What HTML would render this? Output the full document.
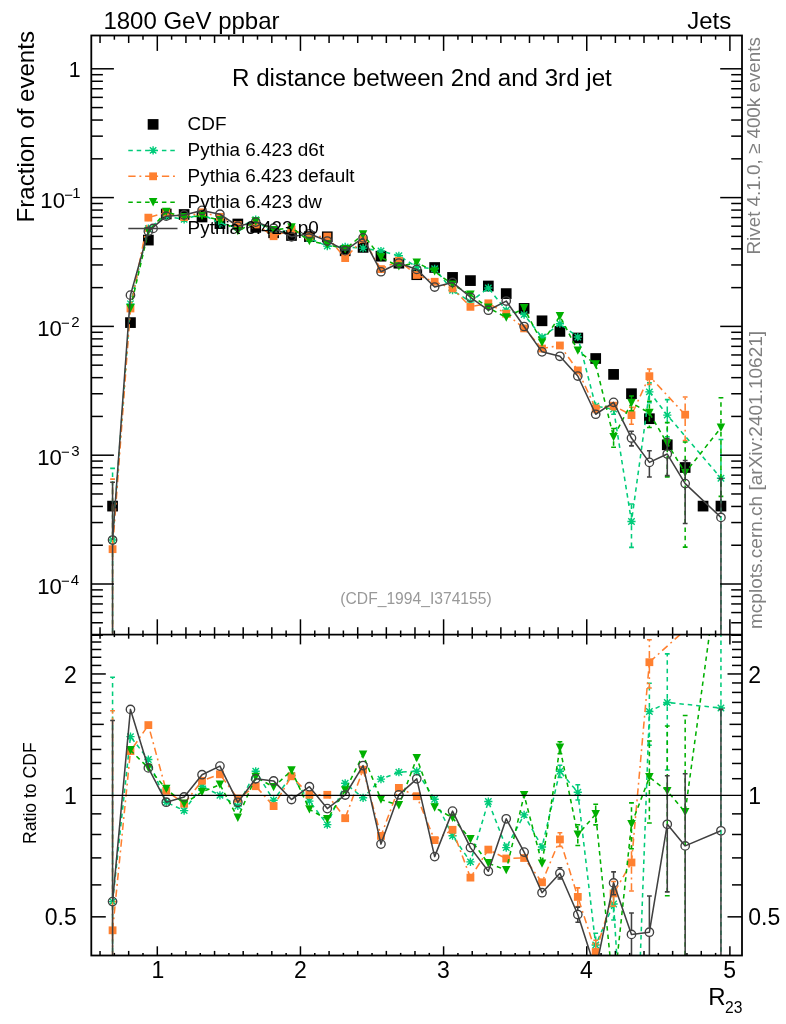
<!DOCTYPE html>
<html lang="en"><head><meta charset="utf-8"><title>R distance between 2nd and 3rd jet</title>
<style>html,body{margin:0;padding:0;background:#fff}body{width:786px;height:1024px;overflow:hidden}</style></head>
<body>
<svg width="786" height="1024" viewBox="0 0 786 1024" style="display:block">
<style>text{font-family:"Liberation Sans",sans-serif}</style>
<rect width="786" height="1024" fill="#fff"/>
<defs><clipPath id="cm"><rect x="91.3" y="35.5" width="650.7" height="599.2"/></clipPath><clipPath id="cr"><rect x="91.3" y="634.7" width="650.7" height="320.79999999999995"/></clipPath></defs>
<g clip-path="url(#cm)">
<rect x="107.22" y="500.75" width="10.7" height="10.7" fill="#000"/>
<rect x="125.11" y="317.25" width="10.7" height="10.7" fill="#000"/>
<rect x="143.00" y="234.75" width="10.7" height="10.7" fill="#000"/>
<rect x="160.90" y="208.65" width="10.7" height="10.7" fill="#000"/>
<rect x="178.79" y="209.15" width="10.7" height="10.7" fill="#000"/>
<rect x="196.68" y="211.65" width="10.7" height="10.7" fill="#000"/>
<rect x="214.58" y="218.25" width="10.7" height="10.7" fill="#000"/>
<rect x="232.47" y="218.65" width="10.7" height="10.7" fill="#000"/>
<rect x="250.37" y="222.05" width="10.7" height="10.7" fill="#000"/>
<rect x="268.26" y="227.45" width="10.7" height="10.7" fill="#000"/>
<rect x="286.15" y="230.15" width="10.7" height="10.7" fill="#000"/>
<rect x="304.05" y="231.25" width="10.7" height="10.7" fill="#000"/>
<rect x="321.94" y="231.45" width="10.7" height="10.7" fill="#000"/>
<rect x="339.83" y="245.45" width="10.7" height="10.7" fill="#000"/>
<rect x="357.73" y="242.05" width="10.7" height="10.7" fill="#000"/>
<rect x="375.62" y="250.85" width="10.7" height="10.7" fill="#000"/>
<rect x="393.52" y="257.85" width="10.7" height="10.7" fill="#000"/>
<rect x="411.41" y="269.35" width="10.7" height="10.7" fill="#000"/>
<rect x="429.30" y="262.15" width="10.7" height="10.7" fill="#000"/>
<rect x="447.20" y="272.05" width="10.7" height="10.7" fill="#000"/>
<rect x="465.09" y="275.25" width="10.7" height="10.7" fill="#000"/>
<rect x="482.98" y="280.65" width="10.7" height="10.7" fill="#000"/>
<rect x="500.88" y="288.25" width="10.7" height="10.7" fill="#000"/>
<rect x="518.77" y="303.05" width="10.7" height="10.7" fill="#000"/>
<rect x="536.67" y="315.45" width="10.7" height="10.7" fill="#000"/>
<rect x="554.56" y="326.05" width="10.7" height="10.7" fill="#000"/>
<rect x="572.45" y="332.65" width="10.7" height="10.7" fill="#000"/>
<rect x="590.35" y="353.15" width="10.7" height="10.7" fill="#000"/>
<rect x="608.24" y="369.05" width="10.7" height="10.7" fill="#000"/>
<rect x="626.13" y="388.35" width="10.7" height="10.7" fill="#000"/>
<rect x="644.03" y="413.35" width="10.7" height="10.7" fill="#000"/>
<rect x="661.92" y="439.45" width="10.7" height="10.7" fill="#000"/>
<rect x="679.82" y="462.15" width="10.7" height="10.7" fill="#000"/>
<rect x="697.71" y="500.75" width="10.7" height="10.7" fill="#000"/>
<rect x="715.60" y="500.75" width="10.7" height="10.7" fill="#000"/>
<polyline points="112.57,540.01 130.46,303.83 148.35,228.64 166.25,216.17 184.14,219.35 202.03,214.06 219.93,223.57 237.82,227.38 255.72,219.71 273.61,234.36 291.50,229.15 309.40,238.42 327.29,246.12 345.18,246.94 363.08,248.17 380.97,251.00 398.87,255.79 416.76,267.01 434.65,268.75 452.55,290.27 470.44,301.83 488.33,287.95 506.23,310.27 524.12,314.63 542.02,337.28 559.91,323.71 577.80,336.98 595.70,406.27 613.59,409.07 631.48,521.54 649.38,391.91 667.27,415.14 720.95,478.19" fill="none" stroke="#00cc7a" stroke-width="1.55" stroke-dasharray="4.5 3.9" stroke-linejoin="round"/>
<path d="M112.57 535.91V468.36M112.57 544.11V684.70" fill="none" stroke="#00cc7a" stroke-width="1.55" stroke-dasharray="4.5 3.9"/>
<path d="M110.17 468.36H114.97M110.17 684.70H114.97" fill="none" stroke="#00cc7a" stroke-width="1.55"/>
<path d="M613.59 404.97V404.41M613.59 413.17V414.17" fill="none" stroke="#00cc7a" stroke-width="1.55" stroke-dasharray="4.5 3.9"/>
<path d="M611.19 404.41H615.99M611.19 414.17H615.99" fill="none" stroke="#00cc7a" stroke-width="1.55"/>
<path d="M631.48 517.44V503.93M631.48 525.64V547.39" fill="none" stroke="#00cc7a" stroke-width="1.55" stroke-dasharray="4.5 3.9"/>
<path d="M629.08 503.93H633.88M629.08 547.39H633.88" fill="none" stroke="#00cc7a" stroke-width="1.55"/>
<path d="M649.38 387.81V382.89M649.38 396.01V402.67" fill="none" stroke="#00cc7a" stroke-width="1.55" stroke-dasharray="4.5 3.9"/>
<path d="M646.98 382.89H651.78M646.98 402.67H651.78" fill="none" stroke="#00cc7a" stroke-width="1.55"/>
<path d="M667.27 411.04V399.61M667.27 419.24V436.71" fill="none" stroke="#00cc7a" stroke-width="1.55" stroke-dasharray="4.5 3.9"/>
<path d="M664.87 399.61H669.67M664.87 436.71H669.67" fill="none" stroke="#00cc7a" stroke-width="1.55"/>
<path d="M720.95 474.09V439.42M720.95 482.29V684.70" fill="none" stroke="#00cc7a" stroke-width="1.55" stroke-dasharray="4.5 3.9"/>
<path d="M718.55 439.42H723.35M718.55 684.70H723.35" fill="none" stroke="#00cc7a" stroke-width="1.55"/>
<path d="M108.47 540.01H116.67M112.57 535.91V544.11M109.37 536.81L115.77 543.21M109.37 543.21L115.77 536.81" stroke="#00cc7a" stroke-width="1.4" fill="none"/>
<path d="M126.36 303.83H134.56M130.46 299.73V307.93M127.26 300.63L133.66 307.03M127.26 307.03L133.66 300.63" stroke="#00cc7a" stroke-width="1.4" fill="none"/>
<path d="M144.25 228.64H152.45M148.35 224.54V232.74M145.15 225.44L151.55 231.84M145.15 231.84L151.55 225.44" stroke="#00cc7a" stroke-width="1.4" fill="none"/>
<path d="M162.15 216.17H170.35M166.25 212.07V220.27M163.05 212.97L169.45 219.37M163.05 219.37L169.45 212.97" stroke="#00cc7a" stroke-width="1.4" fill="none"/>
<path d="M180.04 219.35H188.24M184.14 215.25V223.45M180.94 216.15L187.34 222.55M180.94 222.55L187.34 216.15" stroke="#00cc7a" stroke-width="1.4" fill="none"/>
<path d="M197.93 214.06H206.13M202.03 209.96V218.16M198.83 210.86L205.23 217.26M198.83 217.26L205.23 210.86" stroke="#00cc7a" stroke-width="1.4" fill="none"/>
<path d="M215.83 223.57H224.03M219.93 219.47V227.67M216.73 220.37L223.13 226.77M216.73 226.77L223.13 220.37" stroke="#00cc7a" stroke-width="1.4" fill="none"/>
<path d="M233.72 227.38H241.92M237.82 223.28V231.48M234.62 224.18L241.02 230.58M234.62 230.58L241.02 224.18" stroke="#00cc7a" stroke-width="1.4" fill="none"/>
<path d="M251.62 219.71H259.82M255.72 215.61V223.81M252.52 216.51L258.92 222.91M252.52 222.91L258.92 216.51" stroke="#00cc7a" stroke-width="1.4" fill="none"/>
<path d="M269.51 234.36H277.71M273.61 230.26V238.46M270.41 231.16L276.81 237.56M270.41 237.56L276.81 231.16" stroke="#00cc7a" stroke-width="1.4" fill="none"/>
<path d="M287.40 229.15H295.60M291.50 225.05V233.25M288.30 225.95L294.70 232.35M288.30 232.35L294.70 225.95" stroke="#00cc7a" stroke-width="1.4" fill="none"/>
<path d="M305.30 238.42H313.50M309.40 234.32V242.52M306.20 235.22L312.60 241.62M306.20 241.62L312.60 235.22" stroke="#00cc7a" stroke-width="1.4" fill="none"/>
<path d="M323.19 246.12H331.39M327.29 242.02V250.22M324.09 242.92L330.49 249.32M324.09 249.32L330.49 242.92" stroke="#00cc7a" stroke-width="1.4" fill="none"/>
<path d="M341.08 246.94H349.28M345.18 242.84V251.04M341.98 243.74L348.38 250.14M341.98 250.14L348.38 243.74" stroke="#00cc7a" stroke-width="1.4" fill="none"/>
<path d="M358.98 248.17H367.18M363.08 244.07V252.27M359.88 244.97L366.28 251.37M359.88 251.37L366.28 244.97" stroke="#00cc7a" stroke-width="1.4" fill="none"/>
<path d="M376.87 251.00H385.07M380.97 246.90V255.10M377.77 247.80L384.17 254.20M377.77 254.20L384.17 247.80" stroke="#00cc7a" stroke-width="1.4" fill="none"/>
<path d="M394.77 255.79H402.97M398.87 251.69V259.89M395.67 252.59L402.07 258.99M395.67 258.99L402.07 252.59" stroke="#00cc7a" stroke-width="1.4" fill="none"/>
<path d="M412.66 267.01H420.86M416.76 262.91V271.11M413.56 263.81L419.96 270.21M413.56 270.21L419.96 263.81" stroke="#00cc7a" stroke-width="1.4" fill="none"/>
<path d="M430.55 268.75H438.75M434.65 264.65V272.85M431.45 265.55L437.85 271.95M431.45 271.95L437.85 265.55" stroke="#00cc7a" stroke-width="1.4" fill="none"/>
<path d="M448.45 290.27H456.65M452.55 286.17V294.37M449.35 287.07L455.75 293.47M449.35 293.47L455.75 287.07" stroke="#00cc7a" stroke-width="1.4" fill="none"/>
<path d="M466.34 301.83H474.54M470.44 297.73V305.93M467.24 298.63L473.64 305.03M467.24 305.03L473.64 298.63" stroke="#00cc7a" stroke-width="1.4" fill="none"/>
<path d="M484.23 287.95H492.43M488.33 283.85V292.05M485.13 284.75L491.53 291.15M485.13 291.15L491.53 284.75" stroke="#00cc7a" stroke-width="1.4" fill="none"/>
<path d="M502.13 310.27H510.33M506.23 306.17V314.37M503.03 307.07L509.43 313.47M503.03 313.47L509.43 307.07" stroke="#00cc7a" stroke-width="1.4" fill="none"/>
<path d="M520.02 314.63H528.22M524.12 310.53V318.73M520.92 311.43L527.32 317.83M520.92 317.83L527.32 311.43" stroke="#00cc7a" stroke-width="1.4" fill="none"/>
<path d="M537.92 337.28H546.12M542.02 333.18V341.38M538.82 334.08L545.22 340.48M538.82 340.48L545.22 334.08" stroke="#00cc7a" stroke-width="1.4" fill="none"/>
<path d="M555.81 323.71H564.01M559.91 319.61V327.81M556.71 320.51L563.11 326.91M556.71 326.91L563.11 320.51" stroke="#00cc7a" stroke-width="1.4" fill="none"/>
<path d="M573.70 336.98H581.90M577.80 332.88V341.08M574.60 333.78L581.00 340.18M574.60 340.18L581.00 333.78" stroke="#00cc7a" stroke-width="1.4" fill="none"/>
<path d="M591.60 406.27H599.80M595.70 402.17V410.37M592.50 403.07L598.90 409.47M592.50 409.47L598.90 403.07" stroke="#00cc7a" stroke-width="1.4" fill="none"/>
<path d="M609.49 409.07H617.69M613.59 404.97V413.17M610.39 405.87L616.79 412.27M610.39 412.27L616.79 405.87" stroke="#00cc7a" stroke-width="1.4" fill="none"/>
<path d="M627.38 521.54H635.58M631.48 517.44V525.64M628.28 518.34L634.68 524.74M628.28 524.74L634.68 518.34" stroke="#00cc7a" stroke-width="1.4" fill="none"/>
<path d="M645.28 391.91H653.48M649.38 387.81V396.01M646.18 388.71L652.58 395.11M646.18 395.11L652.58 388.71" stroke="#00cc7a" stroke-width="1.4" fill="none"/>
<path d="M663.17 415.14H671.37M667.27 411.04V419.24M664.07 411.94L670.47 418.34M664.07 418.34L670.47 411.94" stroke="#00cc7a" stroke-width="1.4" fill="none"/>
<path d="M716.85 478.19H725.05M720.95 474.09V482.29M717.75 474.99L724.15 481.39M717.75 481.39L724.15 474.99" stroke="#00cc7a" stroke-width="1.4" fill="none"/>
<polyline points="112.57,549.17 130.46,308.46 148.35,217.65 166.25,212.53 184.14,217.15 202.03,212.34 219.93,216.86 237.82,225.02 255.72,224.46 273.61,236.22 291.50,229.40 309.40,236.41 327.29,236.61 345.18,258.08 363.08,239.19 380.97,269.13 398.87,260.81 416.76,274.96 434.65,281.77 452.55,288.38 470.44,306.85 488.33,303.31 506.23,313.75 524.12,328.39 542.02,348.55 559.91,345.45 577.80,370.41 595.70,408.50 613.59,405.69 631.48,415.12 649.38,376.17 685.17,414.69" fill="none" stroke="#ff8030" stroke-width="1.55" stroke-dasharray="7.3 3.8 1.9 3.8" stroke-linejoin="round"/>
<path d="M112.57 545.27V479.10M112.57 553.07V684.70" fill="none" stroke="#ff8030" stroke-width="1.55" stroke-dasharray="7.3 3.8 1.9 3.8"/>
<path d="M110.17 479.10H114.97M110.17 684.70H114.97" fill="none" stroke="#ff8030" stroke-width="1.55"/>
<path d="M595.70 412.40V412.56" fill="none" stroke="#ff8030" stroke-width="1.55" stroke-dasharray="7.3 3.8 1.9 3.8"/>
<path d="M593.30 412.56H598.10" fill="none" stroke="#ff8030" stroke-width="1.55"/>
<path d="M613.59 409.59V409.75" fill="none" stroke="#ff8030" stroke-width="1.55" stroke-dasharray="7.3 3.8 1.9 3.8"/>
<path d="M611.19 409.75H615.99" fill="none" stroke="#ff8030" stroke-width="1.55"/>
<path d="M631.48 411.22V407.31M631.48 419.02V424.21" fill="none" stroke="#ff8030" stroke-width="1.55" stroke-dasharray="7.3 3.8 1.9 3.8"/>
<path d="M629.08 407.31H633.88M629.08 424.21H633.88" fill="none" stroke="#ff8030" stroke-width="1.55"/>
<path d="M649.38 372.27V368.99M649.38 380.07V384.41" fill="none" stroke="#ff8030" stroke-width="1.55" stroke-dasharray="7.3 3.8 1.9 3.8"/>
<path d="M646.98 368.99H651.78M646.98 384.41H651.78" fill="none" stroke="#ff8030" stroke-width="1.55"/>
<path d="M685.17 410.79V397.08M685.17 418.59V440.54" fill="none" stroke="#ff8030" stroke-width="1.55" stroke-dasharray="7.3 3.8 1.9 3.8"/>
<path d="M682.77 397.08H687.57M682.77 440.54H687.57" fill="none" stroke="#ff8030" stroke-width="1.55"/>
<rect x="108.67" y="545.27" width="7.8" height="7.8" fill="#ff8030"/>
<rect x="126.56" y="304.56" width="7.8" height="7.8" fill="#ff8030"/>
<rect x="144.45" y="213.75" width="7.8" height="7.8" fill="#ff8030"/>
<rect x="162.35" y="208.63" width="7.8" height="7.8" fill="#ff8030"/>
<rect x="180.24" y="213.25" width="7.8" height="7.8" fill="#ff8030"/>
<rect x="198.13" y="208.44" width="7.8" height="7.8" fill="#ff8030"/>
<rect x="216.03" y="212.96" width="7.8" height="7.8" fill="#ff8030"/>
<rect x="233.92" y="221.12" width="7.8" height="7.8" fill="#ff8030"/>
<rect x="251.82" y="220.56" width="7.8" height="7.8" fill="#ff8030"/>
<rect x="269.71" y="232.32" width="7.8" height="7.8" fill="#ff8030"/>
<rect x="287.60" y="225.50" width="7.8" height="7.8" fill="#ff8030"/>
<rect x="305.50" y="232.51" width="7.8" height="7.8" fill="#ff8030"/>
<rect x="323.39" y="232.71" width="7.8" height="7.8" fill="#ff8030"/>
<rect x="341.28" y="254.18" width="7.8" height="7.8" fill="#ff8030"/>
<rect x="359.18" y="235.29" width="7.8" height="7.8" fill="#ff8030"/>
<rect x="377.07" y="265.23" width="7.8" height="7.8" fill="#ff8030"/>
<rect x="394.97" y="256.91" width="7.8" height="7.8" fill="#ff8030"/>
<rect x="412.86" y="271.06" width="7.8" height="7.8" fill="#ff8030"/>
<rect x="430.75" y="277.87" width="7.8" height="7.8" fill="#ff8030"/>
<rect x="448.65" y="284.48" width="7.8" height="7.8" fill="#ff8030"/>
<rect x="466.54" y="302.95" width="7.8" height="7.8" fill="#ff8030"/>
<rect x="484.43" y="299.41" width="7.8" height="7.8" fill="#ff8030"/>
<rect x="502.33" y="309.85" width="7.8" height="7.8" fill="#ff8030"/>
<rect x="520.22" y="324.49" width="7.8" height="7.8" fill="#ff8030"/>
<rect x="538.12" y="344.65" width="7.8" height="7.8" fill="#ff8030"/>
<rect x="556.01" y="341.55" width="7.8" height="7.8" fill="#ff8030"/>
<rect x="573.90" y="366.51" width="7.8" height="7.8" fill="#ff8030"/>
<rect x="591.80" y="404.60" width="7.8" height="7.8" fill="#ff8030"/>
<rect x="609.69" y="401.79" width="7.8" height="7.8" fill="#ff8030"/>
<rect x="627.58" y="411.22" width="7.8" height="7.8" fill="#ff8030"/>
<rect x="645.48" y="372.27" width="7.8" height="7.8" fill="#ff8030"/>
<rect x="681.27" y="410.79" width="7.8" height="7.8" fill="#ff8030"/>
<polyline points="130.46,308.20 148.35,231.32 166.25,211.92 184.14,217.15 202.03,215.91 219.93,220.15 237.82,231.12 255.72,221.53 273.61,230.15 291.50,227.55 309.40,241.07 327.29,244.43 345.18,249.20 363.08,234.44 380.97,257.51 398.87,266.36 416.76,262.79 434.65,271.36 452.55,284.58 470.44,294.62 488.33,307.68 506.23,317.45 524.12,308.30 542.02,342.58 559.91,316.17 577.80,350.58 595.70,364.50 613.59,437.08 631.48,402.93 649.38,412.92 667.27,443.43 685.17,472.83 720.95,427.72" fill="none" stroke="#00b000" stroke-width="1.55" stroke-dasharray="4.5 3.9" stroke-linejoin="round"/>
<path d="M613.59 432.88V428.53M613.59 441.28V447.16" fill="none" stroke="#00b000" stroke-width="1.55" stroke-dasharray="4.5 3.9"/>
<path d="M611.19 428.53H615.99M611.19 447.16H615.99" fill="none" stroke="#00b000" stroke-width="1.55"/>
<path d="M631.48 398.73V396.09M631.48 407.13V410.72" fill="none" stroke="#00b000" stroke-width="1.55" stroke-dasharray="4.5 3.9"/>
<path d="M629.08 396.09H633.88M629.08 410.72H633.88" fill="none" stroke="#00b000" stroke-width="1.55"/>
<path d="M649.38 408.72V401.34M649.38 417.12V427.54" fill="none" stroke="#00b000" stroke-width="1.55" stroke-dasharray="4.5 3.9"/>
<path d="M646.98 401.34H651.78M646.98 427.54H651.78" fill="none" stroke="#00b000" stroke-width="1.55"/>
<path d="M667.27 439.23V422.64M667.27 447.63V476.87" fill="none" stroke="#00b000" stroke-width="1.55" stroke-dasharray="4.5 3.9"/>
<path d="M664.87 422.64H669.67M664.87 476.87H669.67" fill="none" stroke="#00b000" stroke-width="1.55"/>
<path d="M685.17 468.63V442.01M685.17 477.03V547.12" fill="none" stroke="#00b000" stroke-width="1.55" stroke-dasharray="4.5 3.9"/>
<path d="M682.77 442.01H687.57M682.77 547.12H687.57" fill="none" stroke="#00b000" stroke-width="1.55"/>
<path d="M720.95 423.52V397.80M720.95 431.92V496.38" fill="none" stroke="#00b000" stroke-width="1.55" stroke-dasharray="4.5 3.9"/>
<path d="M718.55 397.80H723.35M718.55 496.38H723.35" fill="none" stroke="#00b000" stroke-width="1.55"/>
<path d="M126.21 304.00H134.71L130.46 312.40Z" fill="#00b000"/>
<path d="M144.10 227.12H152.60L148.35 235.52Z" fill="#00b000"/>
<path d="M162.00 207.72H170.50L166.25 216.12Z" fill="#00b000"/>
<path d="M179.89 212.95H188.39L184.14 221.35Z" fill="#00b000"/>
<path d="M197.78 211.71H206.28L202.03 220.11Z" fill="#00b000"/>
<path d="M215.68 215.95H224.18L219.93 224.35Z" fill="#00b000"/>
<path d="M233.57 226.92H242.07L237.82 235.32Z" fill="#00b000"/>
<path d="M251.47 217.33H259.97L255.72 225.73Z" fill="#00b000"/>
<path d="M269.36 225.95H277.86L273.61 234.35Z" fill="#00b000"/>
<path d="M287.25 223.35H295.75L291.50 231.75Z" fill="#00b000"/>
<path d="M305.15 236.87H313.65L309.40 245.27Z" fill="#00b000"/>
<path d="M323.04 240.23H331.54L327.29 248.63Z" fill="#00b000"/>
<path d="M340.93 245.00H349.43L345.18 253.40Z" fill="#00b000"/>
<path d="M358.83 230.24H367.33L363.08 238.64Z" fill="#00b000"/>
<path d="M376.72 253.31H385.22L380.97 261.71Z" fill="#00b000"/>
<path d="M394.62 262.16H403.12L398.87 270.56Z" fill="#00b000"/>
<path d="M412.51 258.59H421.01L416.76 266.99Z" fill="#00b000"/>
<path d="M430.40 267.16H438.90L434.65 275.56Z" fill="#00b000"/>
<path d="M448.30 280.38H456.80L452.55 288.78Z" fill="#00b000"/>
<path d="M466.19 290.42H474.69L470.44 298.82Z" fill="#00b000"/>
<path d="M484.08 303.48H492.58L488.33 311.88Z" fill="#00b000"/>
<path d="M501.98 313.25H510.48L506.23 321.65Z" fill="#00b000"/>
<path d="M519.87 304.10H528.37L524.12 312.50Z" fill="#00b000"/>
<path d="M537.77 338.38H546.27L542.02 346.78Z" fill="#00b000"/>
<path d="M555.66 311.97H564.16L559.91 320.37Z" fill="#00b000"/>
<path d="M573.55 346.38H582.05L577.80 354.78Z" fill="#00b000"/>
<path d="M591.45 360.30H599.95L595.70 368.70Z" fill="#00b000"/>
<path d="M609.34 432.88H617.84L613.59 441.28Z" fill="#00b000"/>
<path d="M627.23 398.73H635.73L631.48 407.13Z" fill="#00b000"/>
<path d="M645.13 408.72H653.63L649.38 417.12Z" fill="#00b000"/>
<path d="M663.02 439.23H671.52L667.27 447.63Z" fill="#00b000"/>
<path d="M680.92 468.63H689.42L685.17 477.03Z" fill="#00b000"/>
<path d="M716.70 423.52H725.20L720.95 431.92Z" fill="#00b000"/>
<polyline points="112.57,540.01 130.46,295.14 148.35,231.32 166.25,216.17 184.14,214.98 202.03,210.39 219.93,214.24 237.82,226.20 255.72,222.10 273.61,228.17 291.50,236.81 309.40,233.82 327.29,241.01 345.18,250.67 363.08,237.89 380.97,271.75 398.87,263.01 416.76,269.40 434.65,287.04 452.55,282.41 470.44,297.27 488.33,310.23 506.23,301.07 524.12,326.50 542.02,351.87 559.91,356.27 577.80,376.03 595.70,414.25 613.59,402.34 631.48,438.08 649.38,462.38 667.27,454.03 685.17,483.62 720.95,517.40" fill="none" stroke="#404040" stroke-width="1.55" stroke-linejoin="round"/>
<path d="M112.57 535.61V482.21M112.57 544.41V684.70" fill="none" stroke="#404040" stroke-width="1.55"/>
<path d="M110.17 482.21H114.97M110.17 684.70H114.97" fill="none" stroke="#404040" stroke-width="1.55"/>
<path d="M631.48 433.68V431.24M631.48 442.48V445.87" fill="none" stroke="#404040" stroke-width="1.55"/>
<path d="M629.08 431.24H633.88M629.08 445.87H633.88" fill="none" stroke="#404040" stroke-width="1.55"/>
<path d="M649.38 457.98V450.80M649.38 466.78V477.00" fill="none" stroke="#404040" stroke-width="1.55"/>
<path d="M646.98 450.80H651.78M646.98 477.00H651.78" fill="none" stroke="#404040" stroke-width="1.55"/>
<path d="M667.27 449.63V438.50M667.27 458.43V475.60" fill="none" stroke="#404040" stroke-width="1.55"/>
<path d="M664.87 438.50H669.67M664.87 475.60H669.67" fill="none" stroke="#404040" stroke-width="1.55"/>
<path d="M685.17 479.22V460.57M685.17 488.02V523.53" fill="none" stroke="#404040" stroke-width="1.55"/>
<path d="M682.77 460.57H687.57M682.77 523.53H687.57" fill="none" stroke="#404040" stroke-width="1.55"/>
<path d="M720.95 513.00V478.63M720.95 521.80V684.70" fill="none" stroke="#404040" stroke-width="1.55"/>
<path d="M718.55 478.63H723.35M718.55 684.70H723.35" fill="none" stroke="#404040" stroke-width="1.55"/>
<circle cx="112.57" cy="540.01" r="4.2" fill="none" stroke="#404040" stroke-width="1.35"/>
<circle cx="130.46" cy="295.14" r="4.2" fill="none" stroke="#404040" stroke-width="1.35"/>
<circle cx="148.35" cy="231.32" r="4.2" fill="none" stroke="#404040" stroke-width="1.35"/>
<circle cx="166.25" cy="216.17" r="4.2" fill="none" stroke="#404040" stroke-width="1.35"/>
<circle cx="184.14" cy="214.98" r="4.2" fill="none" stroke="#404040" stroke-width="1.35"/>
<circle cx="202.03" cy="210.39" r="4.2" fill="none" stroke="#404040" stroke-width="1.35"/>
<circle cx="219.93" cy="214.24" r="4.2" fill="none" stroke="#404040" stroke-width="1.35"/>
<circle cx="237.82" cy="226.20" r="4.2" fill="none" stroke="#404040" stroke-width="1.35"/>
<circle cx="255.72" cy="222.10" r="4.2" fill="none" stroke="#404040" stroke-width="1.35"/>
<circle cx="273.61" cy="228.17" r="4.2" fill="none" stroke="#404040" stroke-width="1.35"/>
<circle cx="291.50" cy="236.81" r="4.2" fill="none" stroke="#404040" stroke-width="1.35"/>
<circle cx="309.40" cy="233.82" r="4.2" fill="none" stroke="#404040" stroke-width="1.35"/>
<circle cx="327.29" cy="241.01" r="4.2" fill="none" stroke="#404040" stroke-width="1.35"/>
<circle cx="345.18" cy="250.67" r="4.2" fill="none" stroke="#404040" stroke-width="1.35"/>
<circle cx="363.08" cy="237.89" r="4.2" fill="none" stroke="#404040" stroke-width="1.35"/>
<circle cx="380.97" cy="271.75" r="4.2" fill="none" stroke="#404040" stroke-width="1.35"/>
<circle cx="398.87" cy="263.01" r="4.2" fill="none" stroke="#404040" stroke-width="1.35"/>
<circle cx="416.76" cy="269.40" r="4.2" fill="none" stroke="#404040" stroke-width="1.35"/>
<circle cx="434.65" cy="287.04" r="4.2" fill="none" stroke="#404040" stroke-width="1.35"/>
<circle cx="452.55" cy="282.41" r="4.2" fill="none" stroke="#404040" stroke-width="1.35"/>
<circle cx="470.44" cy="297.27" r="4.2" fill="none" stroke="#404040" stroke-width="1.35"/>
<circle cx="488.33" cy="310.23" r="4.2" fill="none" stroke="#404040" stroke-width="1.35"/>
<circle cx="506.23" cy="301.07" r="4.2" fill="none" stroke="#404040" stroke-width="1.35"/>
<circle cx="524.12" cy="326.50" r="4.2" fill="none" stroke="#404040" stroke-width="1.35"/>
<circle cx="542.02" cy="351.87" r="4.2" fill="none" stroke="#404040" stroke-width="1.35"/>
<circle cx="559.91" cy="356.27" r="4.2" fill="none" stroke="#404040" stroke-width="1.35"/>
<circle cx="577.80" cy="376.03" r="4.2" fill="none" stroke="#404040" stroke-width="1.35"/>
<circle cx="595.70" cy="414.25" r="4.2" fill="none" stroke="#404040" stroke-width="1.35"/>
<circle cx="613.59" cy="402.34" r="4.2" fill="none" stroke="#404040" stroke-width="1.35"/>
<circle cx="631.48" cy="438.08" r="4.2" fill="none" stroke="#404040" stroke-width="1.35"/>
<circle cx="649.38" cy="462.38" r="4.2" fill="none" stroke="#404040" stroke-width="1.35"/>
<circle cx="667.27" cy="454.03" r="4.2" fill="none" stroke="#404040" stroke-width="1.35"/>
<circle cx="685.17" cy="483.62" r="4.2" fill="none" stroke="#404040" stroke-width="1.35"/>
<circle cx="720.95" cy="517.40" r="4.2" fill="none" stroke="#404040" stroke-width="1.35"/>
</g>
<g clip-path="url(#cr)">
<polyline points="112.57,901.60 130.46,736.60 148.35,759.50 166.25,802.20 184.14,810.60 202.03,786.20 219.93,795.30 237.82,806.00 255.72,771.30 273.61,800.30 291.50,775.50 309.40,801.10 327.29,824.60 345.18,783.30 363.08,797.80 380.97,779.10 398.87,772.20 416.76,771.30 434.65,799.30 452.55,835.70 470.44,861.90 488.33,801.50 506.23,847.60 524.12,814.90 542.02,847.00 559.91,771.30 577.80,792.20 595.70,945.00 613.59,904.00 631.48,1195.80 649.38,711.50 667.27,702.50 720.95,708.00" fill="none" stroke="#00cc7a" stroke-width="1.55" stroke-dasharray="4.5 3.9" stroke-linejoin="round"/>
<path d="M112.57 897.50V677.19M112.57 905.70V1005.50" fill="none" stroke="#00cc7a" stroke-width="1.55" stroke-dasharray="4.5 3.9"/>
<path d="M110.17 677.19H114.97M110.17 1005.50H114.97" fill="none" stroke="#00cc7a" stroke-width="1.55"/>
<path d="M559.91 767.20V765.27M559.91 775.40V777.54" fill="none" stroke="#00cc7a" stroke-width="1.55" stroke-dasharray="4.5 3.9"/>
<path d="M557.51 765.27H562.31M557.51 777.54H562.31" fill="none" stroke="#00cc7a" stroke-width="1.55"/>
<path d="M577.80 788.10V784.66M577.80 796.30V800.08" fill="none" stroke="#00cc7a" stroke-width="1.55" stroke-dasharray="4.5 3.9"/>
<path d="M575.40 784.66H580.20M575.40 800.08H580.20" fill="none" stroke="#00cc7a" stroke-width="1.55"/>
<path d="M595.70 940.90V933.15M595.70 949.10V957.71" fill="none" stroke="#00cc7a" stroke-width="1.55" stroke-dasharray="4.5 3.9"/>
<path d="M593.30 933.15H598.10M593.30 957.71H598.10" fill="none" stroke="#00cc7a" stroke-width="1.55"/>
<path d="M613.59 899.90V889.39M613.59 908.10V919.95" fill="none" stroke="#00cc7a" stroke-width="1.55" stroke-dasharray="4.5 3.9"/>
<path d="M611.19 889.39H615.99M611.19 919.95H615.99" fill="none" stroke="#00cc7a" stroke-width="1.55"/>
<path d="M649.38 707.40V683.25M649.38 715.60V745.20" fill="none" stroke="#00cc7a" stroke-width="1.55" stroke-dasharray="4.5 3.9"/>
<path d="M646.98 683.25H651.78M646.98 745.20H651.78" fill="none" stroke="#00cc7a" stroke-width="1.55"/>
<path d="M667.27 698.40V653.86M667.27 706.60V770.07" fill="none" stroke="#00cc7a" stroke-width="1.55" stroke-dasharray="4.5 3.9"/>
<path d="M664.87 653.86H669.67M664.87 770.07H669.67" fill="none" stroke="#00cc7a" stroke-width="1.55"/>
<path d="M720.95 703.90V586.56M720.95 712.10V1005.50" fill="none" stroke="#00cc7a" stroke-width="1.55" stroke-dasharray="4.5 3.9"/>
<path d="M718.55 586.56H723.35M718.55 1005.50H723.35" fill="none" stroke="#00cc7a" stroke-width="1.55"/>
<path d="M108.47 901.60H116.67M112.57 897.50V905.70M109.37 898.40L115.77 904.80M109.37 904.80L115.77 898.40" stroke="#00cc7a" stroke-width="1.4" fill="none"/>
<path d="M126.36 736.60H134.56M130.46 732.50V740.70M127.26 733.40L133.66 739.80M127.26 739.80L133.66 733.40" stroke="#00cc7a" stroke-width="1.4" fill="none"/>
<path d="M144.25 759.50H152.45M148.35 755.40V763.60M145.15 756.30L151.55 762.70M145.15 762.70L151.55 756.30" stroke="#00cc7a" stroke-width="1.4" fill="none"/>
<path d="M162.15 802.20H170.35M166.25 798.10V806.30M163.05 799.00L169.45 805.40M163.05 805.40L169.45 799.00" stroke="#00cc7a" stroke-width="1.4" fill="none"/>
<path d="M180.04 810.60H188.24M184.14 806.50V814.70M180.94 807.40L187.34 813.80M180.94 813.80L187.34 807.40" stroke="#00cc7a" stroke-width="1.4" fill="none"/>
<path d="M197.93 786.20H206.13M202.03 782.10V790.30M198.83 783.00L205.23 789.40M198.83 789.40L205.23 783.00" stroke="#00cc7a" stroke-width="1.4" fill="none"/>
<path d="M215.83 795.30H224.03M219.93 791.20V799.40M216.73 792.10L223.13 798.50M216.73 798.50L223.13 792.10" stroke="#00cc7a" stroke-width="1.4" fill="none"/>
<path d="M233.72 806.00H241.92M237.82 801.90V810.10M234.62 802.80L241.02 809.20M234.62 809.20L241.02 802.80" stroke="#00cc7a" stroke-width="1.4" fill="none"/>
<path d="M251.62 771.30H259.82M255.72 767.20V775.40M252.52 768.10L258.92 774.50M252.52 774.50L258.92 768.10" stroke="#00cc7a" stroke-width="1.4" fill="none"/>
<path d="M269.51 800.30H277.71M273.61 796.20V804.40M270.41 797.10L276.81 803.50M270.41 803.50L276.81 797.10" stroke="#00cc7a" stroke-width="1.4" fill="none"/>
<path d="M287.40 775.50H295.60M291.50 771.40V779.60M288.30 772.30L294.70 778.70M288.30 778.70L294.70 772.30" stroke="#00cc7a" stroke-width="1.4" fill="none"/>
<path d="M305.30 801.10H313.50M309.40 797.00V805.20M306.20 797.90L312.60 804.30M306.20 804.30L312.60 797.90" stroke="#00cc7a" stroke-width="1.4" fill="none"/>
<path d="M323.19 824.60H331.39M327.29 820.50V828.70M324.09 821.40L330.49 827.80M324.09 827.80L330.49 821.40" stroke="#00cc7a" stroke-width="1.4" fill="none"/>
<path d="M341.08 783.30H349.28M345.18 779.20V787.40M341.98 780.10L348.38 786.50M341.98 786.50L348.38 780.10" stroke="#00cc7a" stroke-width="1.4" fill="none"/>
<path d="M358.98 797.80H367.18M363.08 793.70V801.90M359.88 794.60L366.28 801.00M359.88 801.00L366.28 794.60" stroke="#00cc7a" stroke-width="1.4" fill="none"/>
<path d="M376.87 779.10H385.07M380.97 775.00V783.20M377.77 775.90L384.17 782.30M377.77 782.30L384.17 775.90" stroke="#00cc7a" stroke-width="1.4" fill="none"/>
<path d="M394.77 772.20H402.97M398.87 768.10V776.30M395.67 769.00L402.07 775.40M395.67 775.40L402.07 769.00" stroke="#00cc7a" stroke-width="1.4" fill="none"/>
<path d="M412.66 771.30H420.86M416.76 767.20V775.40M413.56 768.10L419.96 774.50M413.56 774.50L419.96 768.10" stroke="#00cc7a" stroke-width="1.4" fill="none"/>
<path d="M430.55 799.30H438.75M434.65 795.20V803.40M431.45 796.10L437.85 802.50M431.45 802.50L437.85 796.10" stroke="#00cc7a" stroke-width="1.4" fill="none"/>
<path d="M448.45 835.70H456.65M452.55 831.60V839.80M449.35 832.50L455.75 838.90M449.35 838.90L455.75 832.50" stroke="#00cc7a" stroke-width="1.4" fill="none"/>
<path d="M466.34 861.90H474.54M470.44 857.80V866.00M467.24 858.70L473.64 865.10M467.24 865.10L473.64 858.70" stroke="#00cc7a" stroke-width="1.4" fill="none"/>
<path d="M484.23 801.50H492.43M488.33 797.40V805.60M485.13 798.30L491.53 804.70M485.13 804.70L491.53 798.30" stroke="#00cc7a" stroke-width="1.4" fill="none"/>
<path d="M502.13 847.60H510.33M506.23 843.50V851.70M503.03 844.40L509.43 850.80M503.03 850.80L509.43 844.40" stroke="#00cc7a" stroke-width="1.4" fill="none"/>
<path d="M520.02 814.90H528.22M524.12 810.80V819.00M520.92 811.70L527.32 818.10M520.92 818.10L527.32 811.70" stroke="#00cc7a" stroke-width="1.4" fill="none"/>
<path d="M537.92 847.00H546.12M542.02 842.90V851.10M538.82 843.80L545.22 850.20M538.82 850.20L545.22 843.80" stroke="#00cc7a" stroke-width="1.4" fill="none"/>
<path d="M555.81 771.30H564.01M559.91 767.20V775.40M556.71 768.10L563.11 774.50M556.71 774.50L563.11 768.10" stroke="#00cc7a" stroke-width="1.4" fill="none"/>
<path d="M573.70 792.20H581.90M577.80 788.10V796.30M574.60 789.00L581.00 795.40M574.60 795.40L581.00 789.00" stroke="#00cc7a" stroke-width="1.4" fill="none"/>
<path d="M591.60 945.00H599.80M595.70 940.90V949.10M592.50 941.80L598.90 948.20M592.50 948.20L598.90 941.80" stroke="#00cc7a" stroke-width="1.4" fill="none"/>
<path d="M609.49 904.00H617.69M613.59 899.90V908.10M610.39 900.80L616.79 907.20M610.39 907.20L616.79 900.80" stroke="#00cc7a" stroke-width="1.4" fill="none"/>
<path d="M645.28 711.50H653.48M649.38 707.40V715.60M646.18 708.30L652.58 714.70M646.18 714.70L652.58 708.30" stroke="#00cc7a" stroke-width="1.4" fill="none"/>
<path d="M663.17 702.50H671.37M667.27 698.40V706.60M664.07 699.30L670.47 705.70M664.07 705.70L670.47 699.30" stroke="#00cc7a" stroke-width="1.4" fill="none"/>
<path d="M716.85 708.00H725.05M720.95 703.90V712.10M717.75 704.80L724.15 711.20M717.75 711.20L724.15 704.80" stroke="#00cc7a" stroke-width="1.4" fill="none"/>
<polyline points="112.57,930.30 130.46,751.10 148.35,725.10 166.25,790.80 184.14,803.70 202.03,780.80 219.93,774.30 237.82,798.60 255.72,786.20 273.61,806.10 291.50,776.30 309.40,794.80 327.29,794.80 345.18,818.20 363.08,769.70 380.97,835.90 398.87,787.90 416.76,796.20 434.65,840.10 452.55,829.80 470.44,877.60 488.33,849.60 506.23,858.50 524.12,858.00 542.02,882.30 559.91,839.40 577.80,896.90 595.70,952.00 613.59,893.40 631.48,862.50 649.38,662.20 685.17,630.00" fill="none" stroke="#ff8030" stroke-width="1.55" stroke-dasharray="7.3 3.8 1.9 3.8" stroke-linejoin="round"/>
<path d="M112.57 926.40V710.82M112.57 934.20V1005.50" fill="none" stroke="#ff8030" stroke-width="1.55" stroke-dasharray="7.3 3.8 1.9 3.8"/>
<path d="M110.17 710.82H114.97M110.17 1005.50H114.97" fill="none" stroke="#ff8030" stroke-width="1.55"/>
<path d="M559.91 835.50V832.70M559.91 843.30V846.37" fill="none" stroke="#ff8030" stroke-width="1.55" stroke-dasharray="7.3 3.8 1.9 3.8"/>
<path d="M557.51 832.70H562.31M557.51 846.37H562.31" fill="none" stroke="#ff8030" stroke-width="1.55"/>
<path d="M577.80 893.00V887.85M577.80 900.80V906.44" fill="none" stroke="#ff8030" stroke-width="1.55" stroke-dasharray="7.3 3.8 1.9 3.8"/>
<path d="M575.40 887.85H580.20M575.40 906.44H580.20" fill="none" stroke="#ff8030" stroke-width="1.55"/>
<path d="M595.70 948.10V940.15M595.70 955.90V964.71" fill="none" stroke="#ff8030" stroke-width="1.55" stroke-dasharray="7.3 3.8 1.9 3.8"/>
<path d="M593.30 940.15H598.10M593.30 964.71H598.10" fill="none" stroke="#ff8030" stroke-width="1.55"/>
<path d="M613.59 889.50V881.55M613.59 897.30V906.11" fill="none" stroke="#ff8030" stroke-width="1.55" stroke-dasharray="7.3 3.8 1.9 3.8"/>
<path d="M611.19 881.55H615.99M611.19 906.11H615.99" fill="none" stroke="#ff8030" stroke-width="1.55"/>
<path d="M631.48 858.60V838.01M631.48 866.40V890.97" fill="none" stroke="#ff8030" stroke-width="1.55" stroke-dasharray="7.3 3.8 1.9 3.8"/>
<path d="M629.08 838.01H633.88M629.08 890.97H633.88" fill="none" stroke="#ff8030" stroke-width="1.55"/>
<path d="M649.38 658.30V639.71M649.38 666.10V688.01" fill="none" stroke="#ff8030" stroke-width="1.55" stroke-dasharray="7.3 3.8 1.9 3.8"/>
<path d="M646.98 639.71H651.78M646.98 688.01H651.78" fill="none" stroke="#ff8030" stroke-width="1.55"/>
<rect x="108.67" y="926.40" width="7.8" height="7.8" fill="#ff8030"/>
<rect x="126.56" y="747.20" width="7.8" height="7.8" fill="#ff8030"/>
<rect x="144.45" y="721.20" width="7.8" height="7.8" fill="#ff8030"/>
<rect x="162.35" y="786.90" width="7.8" height="7.8" fill="#ff8030"/>
<rect x="180.24" y="799.80" width="7.8" height="7.8" fill="#ff8030"/>
<rect x="198.13" y="776.90" width="7.8" height="7.8" fill="#ff8030"/>
<rect x="216.03" y="770.40" width="7.8" height="7.8" fill="#ff8030"/>
<rect x="233.92" y="794.70" width="7.8" height="7.8" fill="#ff8030"/>
<rect x="251.82" y="782.30" width="7.8" height="7.8" fill="#ff8030"/>
<rect x="269.71" y="802.20" width="7.8" height="7.8" fill="#ff8030"/>
<rect x="287.60" y="772.40" width="7.8" height="7.8" fill="#ff8030"/>
<rect x="305.50" y="790.90" width="7.8" height="7.8" fill="#ff8030"/>
<rect x="323.39" y="790.90" width="7.8" height="7.8" fill="#ff8030"/>
<rect x="341.28" y="814.30" width="7.8" height="7.8" fill="#ff8030"/>
<rect x="359.18" y="765.80" width="7.8" height="7.8" fill="#ff8030"/>
<rect x="377.07" y="832.00" width="7.8" height="7.8" fill="#ff8030"/>
<rect x="394.97" y="784.00" width="7.8" height="7.8" fill="#ff8030"/>
<rect x="412.86" y="792.30" width="7.8" height="7.8" fill="#ff8030"/>
<rect x="430.75" y="836.20" width="7.8" height="7.8" fill="#ff8030"/>
<rect x="448.65" y="825.90" width="7.8" height="7.8" fill="#ff8030"/>
<rect x="466.54" y="873.70" width="7.8" height="7.8" fill="#ff8030"/>
<rect x="484.43" y="845.70" width="7.8" height="7.8" fill="#ff8030"/>
<rect x="502.33" y="854.60" width="7.8" height="7.8" fill="#ff8030"/>
<rect x="520.22" y="854.10" width="7.8" height="7.8" fill="#ff8030"/>
<rect x="538.12" y="878.40" width="7.8" height="7.8" fill="#ff8030"/>
<rect x="556.01" y="835.50" width="7.8" height="7.8" fill="#ff8030"/>
<rect x="573.90" y="893.00" width="7.8" height="7.8" fill="#ff8030"/>
<rect x="591.80" y="948.10" width="7.8" height="7.8" fill="#ff8030"/>
<rect x="609.69" y="889.50" width="7.8" height="7.8" fill="#ff8030"/>
<rect x="627.58" y="858.60" width="7.8" height="7.8" fill="#ff8030"/>
<rect x="645.48" y="658.30" width="7.8" height="7.8" fill="#ff8030"/>
<rect x="681.27" y="626.10" width="7.8" height="7.8" fill="#ff8030"/>
<polyline points="130.46,750.30 148.35,767.90 166.25,788.90 184.14,803.70 202.03,792.00 219.93,784.60 237.82,817.70 255.72,777.00 273.61,787.10 291.50,770.50 309.40,809.40 327.29,819.30 345.18,790.40 363.08,754.80 380.97,799.50 398.87,805.30 416.76,758.10 434.65,807.50 452.55,817.90 470.44,839.30 488.33,863.30 506.23,870.10 524.12,795.10 542.02,863.60 559.91,747.70 577.80,834.80 595.70,814.20 613.59,991.70 631.48,824.30 649.38,777.30 667.27,791.10 685.17,812.10 720.95,549.90" fill="none" stroke="#00b000" stroke-width="1.55" stroke-dasharray="4.5 3.9" stroke-linejoin="round"/>
<path d="M559.91 743.50V741.84M559.91 751.90V753.76" fill="none" stroke="#00b000" stroke-width="1.55" stroke-dasharray="4.5 3.9"/>
<path d="M557.51 741.84H562.31M557.51 753.76H562.31" fill="none" stroke="#00b000" stroke-width="1.55"/>
<path d="M577.80 830.60V824.76M577.80 839.00V845.45" fill="none" stroke="#00b000" stroke-width="1.55" stroke-dasharray="4.5 3.9"/>
<path d="M575.40 824.76H580.20M575.40 845.45H580.20" fill="none" stroke="#00b000" stroke-width="1.55"/>
<path d="M595.70 810.00V804.16M595.70 818.40V824.85" fill="none" stroke="#00b000" stroke-width="1.55" stroke-dasharray="4.5 3.9"/>
<path d="M593.30 804.16H598.10M593.30 824.85H598.10" fill="none" stroke="#00b000" stroke-width="1.55"/>
<path d="M631.48 820.10V802.89M631.48 828.50V848.70" fill="none" stroke="#00b000" stroke-width="1.55" stroke-dasharray="4.5 3.9"/>
<path d="M629.08 802.89H633.88M629.08 848.70H633.88" fill="none" stroke="#00b000" stroke-width="1.55"/>
<path d="M649.38 773.10V741.03M649.38 781.50V823.09" fill="none" stroke="#00b000" stroke-width="1.55" stroke-dasharray="4.5 3.9"/>
<path d="M646.98 741.03H651.78M646.98 823.09H651.78" fill="none" stroke="#00b000" stroke-width="1.55"/>
<path d="M667.27 786.90V726.00M667.27 795.30V895.84" fill="none" stroke="#00b000" stroke-width="1.55" stroke-dasharray="4.5 3.9"/>
<path d="M664.87 726.00H669.67M664.87 895.84H669.67" fill="none" stroke="#00b000" stroke-width="1.55"/>
<path d="M685.17 807.90V715.57M685.17 816.30V1044.76" fill="none" stroke="#00b000" stroke-width="1.55" stroke-dasharray="4.5 3.9"/>
<path d="M682.77 715.57H687.57M682.77 1044.76H687.57" fill="none" stroke="#00b000" stroke-width="1.55"/>
<path d="M126.21 746.10H134.71L130.46 754.50Z" fill="#00b000"/>
<path d="M144.10 763.70H152.60L148.35 772.10Z" fill="#00b000"/>
<path d="M162.00 784.70H170.50L166.25 793.10Z" fill="#00b000"/>
<path d="M179.89 799.50H188.39L184.14 807.90Z" fill="#00b000"/>
<path d="M197.78 787.80H206.28L202.03 796.20Z" fill="#00b000"/>
<path d="M215.68 780.40H224.18L219.93 788.80Z" fill="#00b000"/>
<path d="M233.57 813.50H242.07L237.82 821.90Z" fill="#00b000"/>
<path d="M251.47 772.80H259.97L255.72 781.20Z" fill="#00b000"/>
<path d="M269.36 782.90H277.86L273.61 791.30Z" fill="#00b000"/>
<path d="M287.25 766.30H295.75L291.50 774.70Z" fill="#00b000"/>
<path d="M305.15 805.20H313.65L309.40 813.60Z" fill="#00b000"/>
<path d="M323.04 815.10H331.54L327.29 823.50Z" fill="#00b000"/>
<path d="M340.93 786.20H349.43L345.18 794.60Z" fill="#00b000"/>
<path d="M358.83 750.60H367.33L363.08 759.00Z" fill="#00b000"/>
<path d="M376.72 795.30H385.22L380.97 803.70Z" fill="#00b000"/>
<path d="M394.62 801.10H403.12L398.87 809.50Z" fill="#00b000"/>
<path d="M412.51 753.90H421.01L416.76 762.30Z" fill="#00b000"/>
<path d="M430.40 803.30H438.90L434.65 811.70Z" fill="#00b000"/>
<path d="M448.30 813.70H456.80L452.55 822.10Z" fill="#00b000"/>
<path d="M466.19 835.10H474.69L470.44 843.50Z" fill="#00b000"/>
<path d="M484.08 859.10H492.58L488.33 867.50Z" fill="#00b000"/>
<path d="M501.98 865.90H510.48L506.23 874.30Z" fill="#00b000"/>
<path d="M519.87 790.90H528.37L524.12 799.30Z" fill="#00b000"/>
<path d="M537.77 859.40H546.27L542.02 867.80Z" fill="#00b000"/>
<path d="M555.66 743.50H564.16L559.91 751.90Z" fill="#00b000"/>
<path d="M573.55 830.60H582.05L577.80 839.00Z" fill="#00b000"/>
<path d="M591.45 810.00H599.95L595.70 818.40Z" fill="#00b000"/>
<path d="M627.23 820.10H635.73L631.48 828.50Z" fill="#00b000"/>
<path d="M645.13 773.10H653.63L649.38 781.50Z" fill="#00b000"/>
<path d="M663.02 786.90H671.52L667.27 795.30Z" fill="#00b000"/>
<path d="M680.92 807.90H689.42L685.17 816.30Z" fill="#00b000"/>
<polyline points="112.57,901.60 130.46,709.40 148.35,767.90 166.25,802.20 184.14,796.90 202.03,774.70 219.93,766.10 237.82,802.30 255.72,778.80 273.61,780.90 291.50,799.50 309.40,786.70 327.29,808.60 345.18,795.00 363.08,765.60 380.97,844.10 398.87,794.80 416.76,778.80 434.65,856.60 452.55,811.10 470.44,847.60 488.33,871.30 506.23,818.80 524.12,852.10 542.02,892.70 559.91,873.30 577.80,914.50 595.70,970.00 613.59,882.90 631.48,934.40 649.38,932.20 667.27,824.30 685.17,845.90 720.95,830.80" fill="none" stroke="#404040" stroke-width="1.55" stroke-linejoin="round"/>
<path d="M112.57 897.20V720.59M112.57 906.00V1005.50" fill="none" stroke="#404040" stroke-width="1.55"/>
<path d="M110.17 720.59H114.97M110.17 1005.50H114.97" fill="none" stroke="#404040" stroke-width="1.55"/>
<path d="M559.91 868.90V867.78M559.91 877.70V879.00" fill="none" stroke="#404040" stroke-width="1.55"/>
<path d="M557.51 867.78H562.31M557.51 879.00H562.31" fill="none" stroke="#404040" stroke-width="1.55"/>
<path d="M577.80 910.10V907.12M577.80 918.90V922.20" fill="none" stroke="#404040" stroke-width="1.55"/>
<path d="M575.40 907.12H580.20M575.40 922.20H580.20" fill="none" stroke="#404040" stroke-width="1.55"/>
<path d="M613.59 878.50V871.87M613.59 887.30V894.67" fill="none" stroke="#404040" stroke-width="1.55"/>
<path d="M611.19 871.87H615.99M611.19 894.67H615.99" fill="none" stroke="#404040" stroke-width="1.55"/>
<path d="M631.48 930.00V912.99M631.48 938.80V958.80" fill="none" stroke="#404040" stroke-width="1.55"/>
<path d="M629.08 912.99H633.88M629.08 958.80H633.88" fill="none" stroke="#404040" stroke-width="1.55"/>
<path d="M649.38 927.80V895.93M649.38 936.60V977.99" fill="none" stroke="#404040" stroke-width="1.55"/>
<path d="M646.98 895.93H651.78M646.98 977.99H651.78" fill="none" stroke="#404040" stroke-width="1.55"/>
<path d="M667.27 819.90V775.66M667.27 828.70V891.87" fill="none" stroke="#404040" stroke-width="1.55"/>
<path d="M664.87 775.66H669.67M664.87 891.87H669.67" fill="none" stroke="#404040" stroke-width="1.55"/>
<path d="M685.17 841.50V773.70M685.17 850.30V970.87" fill="none" stroke="#404040" stroke-width="1.55"/>
<path d="M682.77 773.70H687.57M682.77 970.87H687.57" fill="none" stroke="#404040" stroke-width="1.55"/>
<path d="M720.95 826.40V709.36M720.95 835.20V1005.50" fill="none" stroke="#404040" stroke-width="1.55"/>
<path d="M718.55 709.36H723.35M718.55 1005.50H723.35" fill="none" stroke="#404040" stroke-width="1.55"/>
<circle cx="112.57" cy="901.60" r="4.2" fill="none" stroke="#404040" stroke-width="1.35"/>
<circle cx="130.46" cy="709.40" r="4.2" fill="none" stroke="#404040" stroke-width="1.35"/>
<circle cx="148.35" cy="767.90" r="4.2" fill="none" stroke="#404040" stroke-width="1.35"/>
<circle cx="166.25" cy="802.20" r="4.2" fill="none" stroke="#404040" stroke-width="1.35"/>
<circle cx="184.14" cy="796.90" r="4.2" fill="none" stroke="#404040" stroke-width="1.35"/>
<circle cx="202.03" cy="774.70" r="4.2" fill="none" stroke="#404040" stroke-width="1.35"/>
<circle cx="219.93" cy="766.10" r="4.2" fill="none" stroke="#404040" stroke-width="1.35"/>
<circle cx="237.82" cy="802.30" r="4.2" fill="none" stroke="#404040" stroke-width="1.35"/>
<circle cx="255.72" cy="778.80" r="4.2" fill="none" stroke="#404040" stroke-width="1.35"/>
<circle cx="273.61" cy="780.90" r="4.2" fill="none" stroke="#404040" stroke-width="1.35"/>
<circle cx="291.50" cy="799.50" r="4.2" fill="none" stroke="#404040" stroke-width="1.35"/>
<circle cx="309.40" cy="786.70" r="4.2" fill="none" stroke="#404040" stroke-width="1.35"/>
<circle cx="327.29" cy="808.60" r="4.2" fill="none" stroke="#404040" stroke-width="1.35"/>
<circle cx="345.18" cy="795.00" r="4.2" fill="none" stroke="#404040" stroke-width="1.35"/>
<circle cx="363.08" cy="765.60" r="4.2" fill="none" stroke="#404040" stroke-width="1.35"/>
<circle cx="380.97" cy="844.10" r="4.2" fill="none" stroke="#404040" stroke-width="1.35"/>
<circle cx="398.87" cy="794.80" r="4.2" fill="none" stroke="#404040" stroke-width="1.35"/>
<circle cx="416.76" cy="778.80" r="4.2" fill="none" stroke="#404040" stroke-width="1.35"/>
<circle cx="434.65" cy="856.60" r="4.2" fill="none" stroke="#404040" stroke-width="1.35"/>
<circle cx="452.55" cy="811.10" r="4.2" fill="none" stroke="#404040" stroke-width="1.35"/>
<circle cx="470.44" cy="847.60" r="4.2" fill="none" stroke="#404040" stroke-width="1.35"/>
<circle cx="488.33" cy="871.30" r="4.2" fill="none" stroke="#404040" stroke-width="1.35"/>
<circle cx="506.23" cy="818.80" r="4.2" fill="none" stroke="#404040" stroke-width="1.35"/>
<circle cx="524.12" cy="852.10" r="4.2" fill="none" stroke="#404040" stroke-width="1.35"/>
<circle cx="542.02" cy="892.70" r="4.2" fill="none" stroke="#404040" stroke-width="1.35"/>
<circle cx="559.91" cy="873.30" r="4.2" fill="none" stroke="#404040" stroke-width="1.35"/>
<circle cx="577.80" cy="914.50" r="4.2" fill="none" stroke="#404040" stroke-width="1.35"/>
<circle cx="613.59" cy="882.90" r="4.2" fill="none" stroke="#404040" stroke-width="1.35"/>
<circle cx="631.48" cy="934.40" r="4.2" fill="none" stroke="#404040" stroke-width="1.35"/>
<circle cx="649.38" cy="932.20" r="4.2" fill="none" stroke="#404040" stroke-width="1.35"/>
<circle cx="667.27" cy="824.30" r="4.2" fill="none" stroke="#404040" stroke-width="1.35"/>
<circle cx="685.17" cy="845.90" r="4.2" fill="none" stroke="#404040" stroke-width="1.35"/>
<circle cx="720.95" cy="830.80" r="4.2" fill="none" stroke="#404040" stroke-width="1.35"/>
</g>
<path d="M91.3 795.4H742.0" stroke="#000" stroke-width="1.4"/>
<rect x="147.7" y="119.10000000000001" width="10.8" height="10.6" fill="#000"/>
<path d="M128.3 150.4H175.4" stroke="#00cc7a" stroke-width="1.55" stroke-dasharray="4.5 3.9"/>
<path d="M149.00 150.40H157.20M153.10 146.30V154.50M149.90 147.20L156.30 153.60M149.90 153.60L156.30 147.20" stroke="#00cc7a" stroke-width="1.4" fill="none"/>
<path d="M128.3 176.3H175.4" stroke="#ff8030" stroke-width="1.55" stroke-dasharray="7.3 3.8 1.9 3.8"/>
<rect x="149.20" y="172.40" width="7.8" height="7.8" fill="#ff8030"/>
<path d="M128.3 202.3H175.4" stroke="#00b000" stroke-width="1.55" stroke-dasharray="4.5 3.9"/>
<path d="M148.85 198.10H157.35L153.10 206.50Z" fill="#00b000"/>
<path d="M128.3 228.4H177.5" stroke="#404040" stroke-width="1.55"/>
<circle cx="153.10" cy="228.40" r="4.2" fill="none" stroke="#404040" stroke-width="1.35"/>
<text x="187.6" y="130.0"  font-size="18.9" fill="#000">CDF</text>
<text x="187.6" y="156.0"  font-size="18.9" fill="#000">Pythia 6.423 d6t</text>
<text x="187.6" y="181.9"  font-size="18.9" fill="#000">Pythia 6.423 default</text>
<text x="187.6" y="207.9"  font-size="18.9" fill="#000">Pythia 6.423 dw</text>
<text x="187.6" y="234.0"  font-size="18.9" fill="#000">Pythia 6.423 p0</text>
<path d="M100.04 35.50L100.04 43.00" stroke="#000" stroke-width="1.5"/>
<path d="M100.04 627.20L100.04 638.70" stroke="#000" stroke-width="1.5"/>
<path d="M100.04 950.90L100.04 955.50" stroke="#000" stroke-width="1.5"/>
<path d="M114.36 35.50L114.36 39.70" stroke="#000" stroke-width="1.5"/>
<path d="M114.36 630.50L114.36 637.10" stroke="#000" stroke-width="1.5"/>
<path d="M114.36 952.90L114.36 955.50" stroke="#000" stroke-width="1.5"/>
<path d="M128.67 35.50L128.67 43.00" stroke="#000" stroke-width="1.5"/>
<path d="M128.67 627.20L128.67 638.70" stroke="#000" stroke-width="1.5"/>
<path d="M128.67 950.90L128.67 955.50" stroke="#000" stroke-width="1.5"/>
<path d="M142.99 35.50L142.99 39.70" stroke="#000" stroke-width="1.5"/>
<path d="M142.99 630.50L142.99 637.10" stroke="#000" stroke-width="1.5"/>
<path d="M142.99 952.90L142.99 955.50" stroke="#000" stroke-width="1.5"/>
<path d="M157.30 35.50L157.30 50.90" stroke="#000" stroke-width="1.5"/>
<path d="M157.30 619.30L157.30 644.40" stroke="#000" stroke-width="1.5"/>
<path d="M157.30 946.30L157.30 955.50" stroke="#000" stroke-width="1.5"/>
<path d="M171.62 35.50L171.62 39.70" stroke="#000" stroke-width="1.5"/>
<path d="M171.62 630.50L171.62 637.10" stroke="#000" stroke-width="1.5"/>
<path d="M171.62 952.90L171.62 955.50" stroke="#000" stroke-width="1.5"/>
<path d="M185.93 35.50L185.93 43.00" stroke="#000" stroke-width="1.5"/>
<path d="M185.93 627.20L185.93 638.70" stroke="#000" stroke-width="1.5"/>
<path d="M185.93 950.90L185.93 955.50" stroke="#000" stroke-width="1.5"/>
<path d="M200.25 35.50L200.25 39.70" stroke="#000" stroke-width="1.5"/>
<path d="M200.25 630.50L200.25 637.10" stroke="#000" stroke-width="1.5"/>
<path d="M200.25 952.90L200.25 955.50" stroke="#000" stroke-width="1.5"/>
<path d="M214.56 35.50L214.56 43.00" stroke="#000" stroke-width="1.5"/>
<path d="M214.56 627.20L214.56 638.70" stroke="#000" stroke-width="1.5"/>
<path d="M214.56 950.90L214.56 955.50" stroke="#000" stroke-width="1.5"/>
<path d="M228.88 35.50L228.88 39.70" stroke="#000" stroke-width="1.5"/>
<path d="M228.88 630.50L228.88 637.10" stroke="#000" stroke-width="1.5"/>
<path d="M228.88 952.90L228.88 955.50" stroke="#000" stroke-width="1.5"/>
<path d="M243.19 35.50L243.19 43.00" stroke="#000" stroke-width="1.5"/>
<path d="M243.19 627.20L243.19 638.70" stroke="#000" stroke-width="1.5"/>
<path d="M243.19 950.90L243.19 955.50" stroke="#000" stroke-width="1.5"/>
<path d="M257.50 35.50L257.50 39.70" stroke="#000" stroke-width="1.5"/>
<path d="M257.50 630.50L257.50 637.10" stroke="#000" stroke-width="1.5"/>
<path d="M257.50 952.90L257.50 955.50" stroke="#000" stroke-width="1.5"/>
<path d="M271.82 35.50L271.82 43.00" stroke="#000" stroke-width="1.5"/>
<path d="M271.82 627.20L271.82 638.70" stroke="#000" stroke-width="1.5"/>
<path d="M271.82 950.90L271.82 955.50" stroke="#000" stroke-width="1.5"/>
<path d="M286.13 35.50L286.13 39.70" stroke="#000" stroke-width="1.5"/>
<path d="M286.13 630.50L286.13 637.10" stroke="#000" stroke-width="1.5"/>
<path d="M286.13 952.90L286.13 955.50" stroke="#000" stroke-width="1.5"/>
<path d="M300.45 35.50L300.45 50.90" stroke="#000" stroke-width="1.5"/>
<path d="M300.45 619.30L300.45 644.40" stroke="#000" stroke-width="1.5"/>
<path d="M300.45 946.30L300.45 955.50" stroke="#000" stroke-width="1.5"/>
<path d="M314.77 35.50L314.77 39.70" stroke="#000" stroke-width="1.5"/>
<path d="M314.77 630.50L314.77 637.10" stroke="#000" stroke-width="1.5"/>
<path d="M314.77 952.90L314.77 955.50" stroke="#000" stroke-width="1.5"/>
<path d="M329.08 35.50L329.08 43.00" stroke="#000" stroke-width="1.5"/>
<path d="M329.08 627.20L329.08 638.70" stroke="#000" stroke-width="1.5"/>
<path d="M329.08 950.90L329.08 955.50" stroke="#000" stroke-width="1.5"/>
<path d="M343.39 35.50L343.39 39.70" stroke="#000" stroke-width="1.5"/>
<path d="M343.39 630.50L343.39 637.10" stroke="#000" stroke-width="1.5"/>
<path d="M343.39 952.90L343.39 955.50" stroke="#000" stroke-width="1.5"/>
<path d="M357.71 35.50L357.71 43.00" stroke="#000" stroke-width="1.5"/>
<path d="M357.71 627.20L357.71 638.70" stroke="#000" stroke-width="1.5"/>
<path d="M357.71 950.90L357.71 955.50" stroke="#000" stroke-width="1.5"/>
<path d="M372.03 35.50L372.03 39.70" stroke="#000" stroke-width="1.5"/>
<path d="M372.03 630.50L372.03 637.10" stroke="#000" stroke-width="1.5"/>
<path d="M372.03 952.90L372.03 955.50" stroke="#000" stroke-width="1.5"/>
<path d="M386.34 35.50L386.34 43.00" stroke="#000" stroke-width="1.5"/>
<path d="M386.34 627.20L386.34 638.70" stroke="#000" stroke-width="1.5"/>
<path d="M386.34 950.90L386.34 955.50" stroke="#000" stroke-width="1.5"/>
<path d="M400.66 35.50L400.66 39.70" stroke="#000" stroke-width="1.5"/>
<path d="M400.66 630.50L400.66 637.10" stroke="#000" stroke-width="1.5"/>
<path d="M400.66 952.90L400.66 955.50" stroke="#000" stroke-width="1.5"/>
<path d="M414.97 35.50L414.97 43.00" stroke="#000" stroke-width="1.5"/>
<path d="M414.97 627.20L414.97 638.70" stroke="#000" stroke-width="1.5"/>
<path d="M414.97 950.90L414.97 955.50" stroke="#000" stroke-width="1.5"/>
<path d="M429.29 35.50L429.29 39.70" stroke="#000" stroke-width="1.5"/>
<path d="M429.29 630.50L429.29 637.10" stroke="#000" stroke-width="1.5"/>
<path d="M429.29 952.90L429.29 955.50" stroke="#000" stroke-width="1.5"/>
<path d="M443.60 35.50L443.60 50.90" stroke="#000" stroke-width="1.5"/>
<path d="M443.60 619.30L443.60 644.40" stroke="#000" stroke-width="1.5"/>
<path d="M443.60 946.30L443.60 955.50" stroke="#000" stroke-width="1.5"/>
<path d="M457.92 35.50L457.92 39.70" stroke="#000" stroke-width="1.5"/>
<path d="M457.92 630.50L457.92 637.10" stroke="#000" stroke-width="1.5"/>
<path d="M457.92 952.90L457.92 955.50" stroke="#000" stroke-width="1.5"/>
<path d="M472.23 35.50L472.23 43.00" stroke="#000" stroke-width="1.5"/>
<path d="M472.23 627.20L472.23 638.70" stroke="#000" stroke-width="1.5"/>
<path d="M472.23 950.90L472.23 955.50" stroke="#000" stroke-width="1.5"/>
<path d="M486.55 35.50L486.55 39.70" stroke="#000" stroke-width="1.5"/>
<path d="M486.55 630.50L486.55 637.10" stroke="#000" stroke-width="1.5"/>
<path d="M486.55 952.90L486.55 955.50" stroke="#000" stroke-width="1.5"/>
<path d="M500.86 35.50L500.86 43.00" stroke="#000" stroke-width="1.5"/>
<path d="M500.86 627.20L500.86 638.70" stroke="#000" stroke-width="1.5"/>
<path d="M500.86 950.90L500.86 955.50" stroke="#000" stroke-width="1.5"/>
<path d="M515.17 35.50L515.17 39.70" stroke="#000" stroke-width="1.5"/>
<path d="M515.17 630.50L515.17 637.10" stroke="#000" stroke-width="1.5"/>
<path d="M515.17 952.90L515.17 955.50" stroke="#000" stroke-width="1.5"/>
<path d="M529.49 35.50L529.49 43.00" stroke="#000" stroke-width="1.5"/>
<path d="M529.49 627.20L529.49 638.70" stroke="#000" stroke-width="1.5"/>
<path d="M529.49 950.90L529.49 955.50" stroke="#000" stroke-width="1.5"/>
<path d="M543.81 35.50L543.81 39.70" stroke="#000" stroke-width="1.5"/>
<path d="M543.81 630.50L543.81 637.10" stroke="#000" stroke-width="1.5"/>
<path d="M543.81 952.90L543.81 955.50" stroke="#000" stroke-width="1.5"/>
<path d="M558.12 35.50L558.12 43.00" stroke="#000" stroke-width="1.5"/>
<path d="M558.12 627.20L558.12 638.70" stroke="#000" stroke-width="1.5"/>
<path d="M558.12 950.90L558.12 955.50" stroke="#000" stroke-width="1.5"/>
<path d="M572.43 35.50L572.43 39.70" stroke="#000" stroke-width="1.5"/>
<path d="M572.43 630.50L572.43 637.10" stroke="#000" stroke-width="1.5"/>
<path d="M572.43 952.90L572.43 955.50" stroke="#000" stroke-width="1.5"/>
<path d="M586.75 35.50L586.75 50.90" stroke="#000" stroke-width="1.5"/>
<path d="M586.75 619.30L586.75 644.40" stroke="#000" stroke-width="1.5"/>
<path d="M586.75 946.30L586.75 955.50" stroke="#000" stroke-width="1.5"/>
<path d="M601.07 35.50L601.07 39.70" stroke="#000" stroke-width="1.5"/>
<path d="M601.07 630.50L601.07 637.10" stroke="#000" stroke-width="1.5"/>
<path d="M601.07 952.90L601.07 955.50" stroke="#000" stroke-width="1.5"/>
<path d="M615.38 35.50L615.38 43.00" stroke="#000" stroke-width="1.5"/>
<path d="M615.38 627.20L615.38 638.70" stroke="#000" stroke-width="1.5"/>
<path d="M615.38 950.90L615.38 955.50" stroke="#000" stroke-width="1.5"/>
<path d="M629.69 35.50L629.69 39.70" stroke="#000" stroke-width="1.5"/>
<path d="M629.69 630.50L629.69 637.10" stroke="#000" stroke-width="1.5"/>
<path d="M629.69 952.90L629.69 955.50" stroke="#000" stroke-width="1.5"/>
<path d="M644.01 35.50L644.01 43.00" stroke="#000" stroke-width="1.5"/>
<path d="M644.01 627.20L644.01 638.70" stroke="#000" stroke-width="1.5"/>
<path d="M644.01 950.90L644.01 955.50" stroke="#000" stroke-width="1.5"/>
<path d="M658.33 35.50L658.33 39.70" stroke="#000" stroke-width="1.5"/>
<path d="M658.33 630.50L658.33 637.10" stroke="#000" stroke-width="1.5"/>
<path d="M658.33 952.90L658.33 955.50" stroke="#000" stroke-width="1.5"/>
<path d="M672.64 35.50L672.64 43.00" stroke="#000" stroke-width="1.5"/>
<path d="M672.64 627.20L672.64 638.70" stroke="#000" stroke-width="1.5"/>
<path d="M672.64 950.90L672.64 955.50" stroke="#000" stroke-width="1.5"/>
<path d="M686.96 35.50L686.96 39.70" stroke="#000" stroke-width="1.5"/>
<path d="M686.96 630.50L686.96 637.10" stroke="#000" stroke-width="1.5"/>
<path d="M686.96 952.90L686.96 955.50" stroke="#000" stroke-width="1.5"/>
<path d="M701.27 35.50L701.27 43.00" stroke="#000" stroke-width="1.5"/>
<path d="M701.27 627.20L701.27 638.70" stroke="#000" stroke-width="1.5"/>
<path d="M701.27 950.90L701.27 955.50" stroke="#000" stroke-width="1.5"/>
<path d="M715.59 35.50L715.59 39.70" stroke="#000" stroke-width="1.5"/>
<path d="M715.59 630.50L715.59 637.10" stroke="#000" stroke-width="1.5"/>
<path d="M715.59 952.90L715.59 955.50" stroke="#000" stroke-width="1.5"/>
<path d="M729.90 35.50L729.90 50.90" stroke="#000" stroke-width="1.5"/>
<path d="M729.90 619.30L729.90 644.40" stroke="#000" stroke-width="1.5"/>
<path d="M729.90 946.30L729.90 955.50" stroke="#000" stroke-width="1.5"/>
<path d="M91.30 68.80L113.90 68.80" stroke="#000" stroke-width="1.5"/>
<path d="M720.20 68.80L742.00 68.80" stroke="#000" stroke-width="1.5"/>
<path d="M91.30 197.60L113.90 197.60" stroke="#000" stroke-width="1.5"/>
<path d="M720.20 197.60L742.00 197.60" stroke="#000" stroke-width="1.5"/>
<path d="M91.30 158.83L102.90 158.83" stroke="#000" stroke-width="1.5"/>
<path d="M731.20 158.83L742.00 158.83" stroke="#000" stroke-width="1.5"/>
<path d="M91.30 136.15L102.90 136.15" stroke="#000" stroke-width="1.5"/>
<path d="M731.20 136.15L742.00 136.15" stroke="#000" stroke-width="1.5"/>
<path d="M91.30 120.05L102.90 120.05" stroke="#000" stroke-width="1.5"/>
<path d="M731.20 120.05L742.00 120.05" stroke="#000" stroke-width="1.5"/>
<path d="M91.30 107.57L102.90 107.57" stroke="#000" stroke-width="1.5"/>
<path d="M731.20 107.57L742.00 107.57" stroke="#000" stroke-width="1.5"/>
<path d="M91.30 97.37L102.90 97.37" stroke="#000" stroke-width="1.5"/>
<path d="M731.20 97.37L742.00 97.37" stroke="#000" stroke-width="1.5"/>
<path d="M91.30 88.75L102.90 88.75" stroke="#000" stroke-width="1.5"/>
<path d="M731.20 88.75L742.00 88.75" stroke="#000" stroke-width="1.5"/>
<path d="M91.30 81.28L102.90 81.28" stroke="#000" stroke-width="1.5"/>
<path d="M731.20 81.28L742.00 81.28" stroke="#000" stroke-width="1.5"/>
<path d="M91.30 74.69L102.90 74.69" stroke="#000" stroke-width="1.5"/>
<path d="M731.20 74.69L742.00 74.69" stroke="#000" stroke-width="1.5"/>
<path d="M91.30 326.40L113.90 326.40" stroke="#000" stroke-width="1.5"/>
<path d="M720.20 326.40L742.00 326.40" stroke="#000" stroke-width="1.5"/>
<path d="M91.30 287.63L102.90 287.63" stroke="#000" stroke-width="1.5"/>
<path d="M731.20 287.63L742.00 287.63" stroke="#000" stroke-width="1.5"/>
<path d="M91.30 264.95L102.90 264.95" stroke="#000" stroke-width="1.5"/>
<path d="M731.20 264.95L742.00 264.95" stroke="#000" stroke-width="1.5"/>
<path d="M91.30 248.85L102.90 248.85" stroke="#000" stroke-width="1.5"/>
<path d="M731.20 248.85L742.00 248.85" stroke="#000" stroke-width="1.5"/>
<path d="M91.30 236.37L102.90 236.37" stroke="#000" stroke-width="1.5"/>
<path d="M731.20 236.37L742.00 236.37" stroke="#000" stroke-width="1.5"/>
<path d="M91.30 226.17L102.90 226.17" stroke="#000" stroke-width="1.5"/>
<path d="M731.20 226.17L742.00 226.17" stroke="#000" stroke-width="1.5"/>
<path d="M91.30 217.55L102.90 217.55" stroke="#000" stroke-width="1.5"/>
<path d="M731.20 217.55L742.00 217.55" stroke="#000" stroke-width="1.5"/>
<path d="M91.30 210.08L102.90 210.08" stroke="#000" stroke-width="1.5"/>
<path d="M731.20 210.08L742.00 210.08" stroke="#000" stroke-width="1.5"/>
<path d="M91.30 203.49L102.90 203.49" stroke="#000" stroke-width="1.5"/>
<path d="M731.20 203.49L742.00 203.49" stroke="#000" stroke-width="1.5"/>
<path d="M91.30 455.20L113.90 455.20" stroke="#000" stroke-width="1.5"/>
<path d="M720.20 455.20L742.00 455.20" stroke="#000" stroke-width="1.5"/>
<path d="M91.30 416.43L102.90 416.43" stroke="#000" stroke-width="1.5"/>
<path d="M731.20 416.43L742.00 416.43" stroke="#000" stroke-width="1.5"/>
<path d="M91.30 393.75L102.90 393.75" stroke="#000" stroke-width="1.5"/>
<path d="M731.20 393.75L742.00 393.75" stroke="#000" stroke-width="1.5"/>
<path d="M91.30 377.65L102.90 377.65" stroke="#000" stroke-width="1.5"/>
<path d="M731.20 377.65L742.00 377.65" stroke="#000" stroke-width="1.5"/>
<path d="M91.30 365.17L102.90 365.17" stroke="#000" stroke-width="1.5"/>
<path d="M731.20 365.17L742.00 365.17" stroke="#000" stroke-width="1.5"/>
<path d="M91.30 354.97L102.90 354.97" stroke="#000" stroke-width="1.5"/>
<path d="M731.20 354.97L742.00 354.97" stroke="#000" stroke-width="1.5"/>
<path d="M91.30 346.35L102.90 346.35" stroke="#000" stroke-width="1.5"/>
<path d="M731.20 346.35L742.00 346.35" stroke="#000" stroke-width="1.5"/>
<path d="M91.30 338.88L102.90 338.88" stroke="#000" stroke-width="1.5"/>
<path d="M731.20 338.88L742.00 338.88" stroke="#000" stroke-width="1.5"/>
<path d="M91.30 332.29L102.90 332.29" stroke="#000" stroke-width="1.5"/>
<path d="M731.20 332.29L742.00 332.29" stroke="#000" stroke-width="1.5"/>
<path d="M91.30 584.00L113.90 584.00" stroke="#000" stroke-width="1.5"/>
<path d="M720.20 584.00L742.00 584.00" stroke="#000" stroke-width="1.5"/>
<path d="M91.30 545.23L102.90 545.23" stroke="#000" stroke-width="1.5"/>
<path d="M731.20 545.23L742.00 545.23" stroke="#000" stroke-width="1.5"/>
<path d="M91.30 522.55L102.90 522.55" stroke="#000" stroke-width="1.5"/>
<path d="M731.20 522.55L742.00 522.55" stroke="#000" stroke-width="1.5"/>
<path d="M91.30 506.45L102.90 506.45" stroke="#000" stroke-width="1.5"/>
<path d="M731.20 506.45L742.00 506.45" stroke="#000" stroke-width="1.5"/>
<path d="M91.30 493.97L102.90 493.97" stroke="#000" stroke-width="1.5"/>
<path d="M731.20 493.97L742.00 493.97" stroke="#000" stroke-width="1.5"/>
<path d="M91.30 483.77L102.90 483.77" stroke="#000" stroke-width="1.5"/>
<path d="M731.20 483.77L742.00 483.77" stroke="#000" stroke-width="1.5"/>
<path d="M91.30 475.15L102.90 475.15" stroke="#000" stroke-width="1.5"/>
<path d="M731.20 475.15L742.00 475.15" stroke="#000" stroke-width="1.5"/>
<path d="M91.30 467.68L102.90 467.68" stroke="#000" stroke-width="1.5"/>
<path d="M731.20 467.68L742.00 467.68" stroke="#000" stroke-width="1.5"/>
<path d="M91.30 461.09L102.90 461.09" stroke="#000" stroke-width="1.5"/>
<path d="M731.20 461.09L742.00 461.09" stroke="#000" stroke-width="1.5"/>
<path d="M91.30 635.25L102.90 635.25" stroke="#000" stroke-width="1.5"/>
<path d="M731.20 635.25L742.00 635.25" stroke="#000" stroke-width="1.5"/>
<path d="M91.30 622.77L102.90 622.77" stroke="#000" stroke-width="1.5"/>
<path d="M731.20 622.77L742.00 622.77" stroke="#000" stroke-width="1.5"/>
<path d="M91.30 612.57L102.90 612.57" stroke="#000" stroke-width="1.5"/>
<path d="M731.20 612.57L742.00 612.57" stroke="#000" stroke-width="1.5"/>
<path d="M91.30 603.95L102.90 603.95" stroke="#000" stroke-width="1.5"/>
<path d="M731.20 603.95L742.00 603.95" stroke="#000" stroke-width="1.5"/>
<path d="M91.30 596.48L102.90 596.48" stroke="#000" stroke-width="1.5"/>
<path d="M731.20 596.48L742.00 596.48" stroke="#000" stroke-width="1.5"/>
<path d="M91.30 589.89L102.90 589.89" stroke="#000" stroke-width="1.5"/>
<path d="M731.20 589.89L742.00 589.89" stroke="#000" stroke-width="1.5"/>
<path d="M91.30 916.84L105.80 916.84" stroke="#000" stroke-width="1.5"/>
<path d="M727.50 916.84L742.00 916.84" stroke="#000" stroke-width="1.5"/>
<path d="M91.30 884.89L101.30 884.89" stroke="#000" stroke-width="1.5"/>
<path d="M732.00 884.89L742.00 884.89" stroke="#000" stroke-width="1.5"/>
<path d="M91.30 857.89L101.30 857.89" stroke="#000" stroke-width="1.5"/>
<path d="M732.00 857.89L742.00 857.89" stroke="#000" stroke-width="1.5"/>
<path d="M91.30 834.49L101.30 834.49" stroke="#000" stroke-width="1.5"/>
<path d="M732.00 834.49L742.00 834.49" stroke="#000" stroke-width="1.5"/>
<path d="M91.30 813.86L101.30 813.86" stroke="#000" stroke-width="1.5"/>
<path d="M732.00 813.86L742.00 813.86" stroke="#000" stroke-width="1.5"/>
<path d="M91.30 778.70L101.30 778.70" stroke="#000" stroke-width="1.5"/>
<path d="M732.00 778.70L742.00 778.70" stroke="#000" stroke-width="1.5"/>
<path d="M91.30 763.46L101.30 763.46" stroke="#000" stroke-width="1.5"/>
<path d="M732.00 763.46L742.00 763.46" stroke="#000" stroke-width="1.5"/>
<path d="M91.30 749.44L101.30 749.44" stroke="#000" stroke-width="1.5"/>
<path d="M732.00 749.44L742.00 749.44" stroke="#000" stroke-width="1.5"/>
<path d="M91.30 736.45L101.30 736.45" stroke="#000" stroke-width="1.5"/>
<path d="M732.00 736.45L742.00 736.45" stroke="#000" stroke-width="1.5"/>
<path d="M91.30 724.36L103.80 724.36" stroke="#000" stroke-width="1.5"/>
<path d="M729.50 724.36L742.00 724.36" stroke="#000" stroke-width="1.5"/>
<path d="M91.30 713.06L101.30 713.06" stroke="#000" stroke-width="1.5"/>
<path d="M732.00 713.06L742.00 713.06" stroke="#000" stroke-width="1.5"/>
<path d="M91.30 702.44L101.30 702.44" stroke="#000" stroke-width="1.5"/>
<path d="M732.00 702.44L742.00 702.44" stroke="#000" stroke-width="1.5"/>
<path d="M91.30 692.42L101.30 692.42" stroke="#000" stroke-width="1.5"/>
<path d="M732.00 692.42L742.00 692.42" stroke="#000" stroke-width="1.5"/>
<path d="M91.30 682.95L101.30 682.95" stroke="#000" stroke-width="1.5"/>
<path d="M732.00 682.95L742.00 682.95" stroke="#000" stroke-width="1.5"/>
<path d="M91.30 673.96L105.80 673.96" stroke="#000" stroke-width="1.5"/>
<path d="M727.50 673.96L742.00 673.96" stroke="#000" stroke-width="1.5"/>
<path d="M91.30 665.42L101.30 665.42" stroke="#000" stroke-width="1.5"/>
<path d="M732.00 665.42L742.00 665.42" stroke="#000" stroke-width="1.5"/>
<path d="M91.30 657.27L101.30 657.27" stroke="#000" stroke-width="1.5"/>
<path d="M732.00 657.27L742.00 657.27" stroke="#000" stroke-width="1.5"/>
<path d="M91.30 649.48L101.30 649.48" stroke="#000" stroke-width="1.5"/>
<path d="M732.00 649.48L742.00 649.48" stroke="#000" stroke-width="1.5"/>
<path d="M91.30 642.02L101.30 642.02" stroke="#000" stroke-width="1.5"/>
<path d="M732.00 642.02L742.00 642.02" stroke="#000" stroke-width="1.5"/>
<rect x="91.3" y="35.5" width="650.7" height="920.0" fill="none" stroke="#000" stroke-width="1.8"/>
<path d="M91.30 634.70L742.00 634.70" stroke="#000" stroke-width="1.8"/>
<text x="103.4" y="28.6"  font-size="24">1800 GeV ppbar</text>
<text x="731.2" y="28.6"  font-size="24" text-anchor="end">Jets</text>
<text x="421.9" y="86"  font-size="24.15" text-anchor="middle">R distance between 2nd and 3rd jet</text>
<text x="416" y="603.8"  font-size="15.65" text-anchor="middle" fill="#999">(CDF_1994_I374155)</text>
<text transform="translate(34,222.5) rotate(-90)"  font-size="24.1">Fraction of events</text>
<text transform="translate(36.2,844) rotate(-90)"  font-size="17.6">Ratio to CDF</text>
<text transform="translate(760.2,254.5) rotate(-90)"  font-size="18.82" fill="#808080">Rivet 4.1.0, ≥ 400k events</text>
<text transform="translate(762.2,629) rotate(-90)"  font-size="19.02" fill="#808080">mcplots.cern.ch [arXiv:2401.10621]</text>
<text x="80.6" y="76.6"  font-size="21.3" text-anchor="end">1</text>
<text font-size="22.2"><tspan x="65.0" y="207.6" text-anchor="end">10</tspan><tspan x="64.15" y="199.5" font-size="15" text-anchor="start">−</tspan><tspan x="80.7" y="198.2" font-size="15" text-anchor="end">1</tspan></text>
<text font-size="22.2"><tspan x="61.9" y="336.4" text-anchor="end">10</tspan><tspan x="61.05" y="328.3" font-size="15" text-anchor="start">−</tspan><tspan x="79.6" y="327.0" font-size="15" text-anchor="end">2</tspan></text>
<text font-size="22.2"><tspan x="61.9" y="465.2" text-anchor="end">10</tspan><tspan x="61.05" y="457.1" font-size="15" text-anchor="start">−</tspan><tspan x="79.6" y="455.8" font-size="15" text-anchor="end">3</tspan></text>
<text font-size="22.2"><tspan x="61.9" y="594.0" text-anchor="end">10</tspan><tspan x="61.05" y="585.9" font-size="15" text-anchor="start">−</tspan><tspan x="79.2" y="584.6" font-size="15" text-anchor="end">4</tspan></text>
<text x="76.8" y="682.6"  font-size="23" text-anchor="end">2</text>
<text x="748.3" y="682.6"  font-size="23">2</text>
<text x="76.8" y="804.0"  font-size="23" text-anchor="end">1</text>
<text x="748.3" y="804.0"  font-size="23">1</text>
<text x="76.8" y="925.4"  font-size="23" text-anchor="end">0.5</text>
<text x="748.3" y="925.4"  font-size="23">0.5</text>
<text x="158.0" y="978"  font-size="23" text-anchor="middle">1</text>
<text x="300.3" y="978"  font-size="23" text-anchor="middle">2</text>
<text x="443.4" y="978"  font-size="23" text-anchor="middle">3</text>
<text x="586.5" y="978"  font-size="23" text-anchor="middle">4</text>
<text x="729.7" y="978"  font-size="23" text-anchor="middle">5</text>
<text x="708.2" y="1004.6" font-size="24">R<tspan x="725" y="1012.6" font-size="15.6">23</tspan></text>
</svg>
</body></html>
